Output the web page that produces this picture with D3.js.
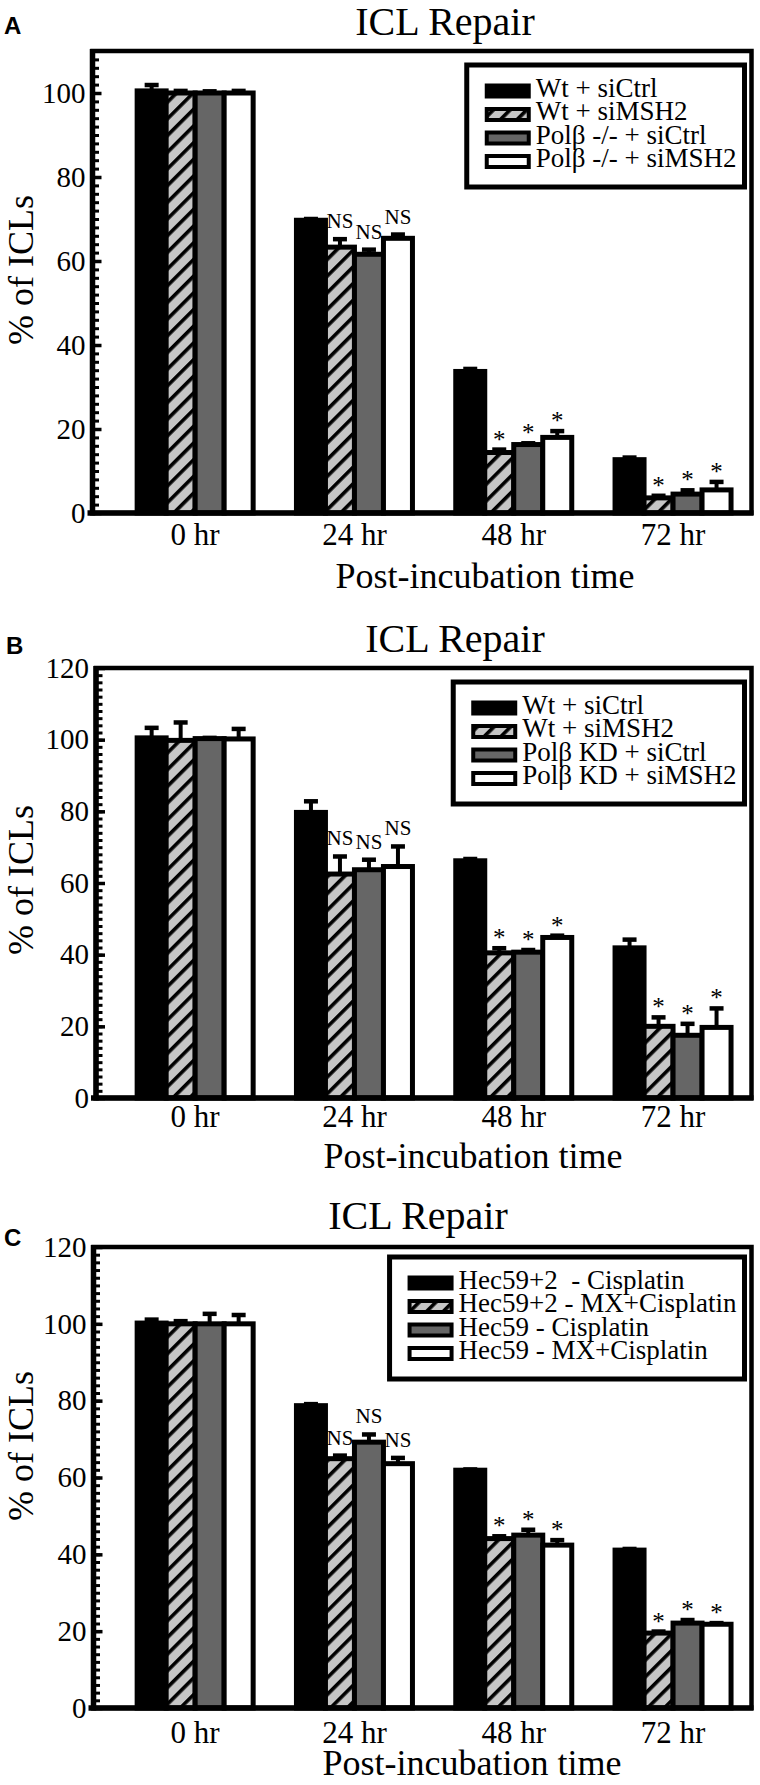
<!DOCTYPE html>
<html><head><meta charset="utf-8">
<script src="https://cdn.jsdelivr.net/npm/d3@7"></script>
<style>body{margin:0;background:#fff}</style>
</head><body>
<svg id="c" width="760" height="1785" xmlns="http://www.w3.org/2000/svg"></svg>
<script>
// ---------- data ----------
const times = ["0 hr", "24 hr", "48 hr", "72 hr"];
const legendA = ["Wt + siCtrl", "Wt + siMSH2", "Polβ -/- + siCtrl", "Polβ -/- + siMSH2"];
const legendB = ["Wt + siCtrl", "Wt + siMSH2", "Polβ KD + siCtrl", "Polβ KD + siMSH2"];
const legendC = ["Hec59+2  - Cisplatin", "Hec59+2 - MX+Cisplatin", "Hec59 - Cisplatin", "Hec59 - MX+Cisplatin"];
const yTicksA = [0, 20, 40, 60, 80, 100];
const yTicksBC = [0, 20, 40, 60, 80, 100, 120];
// rows = series (4), columns = time points
const meansA = [[100.5, 69.7, 33.7, 12.7], [100, 63.3, 14.4, 3.6], [100, 61.6, 16.3, 4.5], [100, 65.4, 18.0, 5.5]];
const errA   = [[1.4, 0.3, 0.6, 0.5], [0.5, 1.9, 0.7, 0.5], [0.4, 1.1, 0.3, 0.9], [0.5, 0.9, 1.5, 1.9]];
const meansB = [[100.5, 79.7, 66.2, 41.9], [99.8, 62.5, 40.5, 20.0], [100.3, 63.7, 40.7, 17.5], [100.2, 64.6, 44.8, 19.7]];
const errB   = [[2.8, 3.1, 0.5, 2.3], [5.0, 4.9, 1.3, 2.5], [0.2, 2.8, 0.6, 3.2], [2.8, 5.6, 0.5, 5.3]];
const meansC = [[100.2, 78.7, 61.9, 41.1], [100, 64.9, 44.1, 19.5], [100, 69.2, 45.0, 22.1], [100, 63.6, 42.4, 21.8]];
const errC   = [[0.9, 0.4, 0.2, 0.3], [0.7, 0.8, 0.6, 0.4], [2.6, 2.0, 1.4, 0.8], [2.3, 1.5, 1.3, 0.3]];
const marksAll = [["", "", "", ""], ["", "NS", "*", "*"], ["", "NS", "*", "*"], ["", "NS", "*", "*"]];

// ---------- styles ----------
const SERIF = "'Liberation Serif','Times New Roman',Times,serif";
const SANS = "'Liberation Sans',Arial,sans-serif";
const fills = ["#000000", "url(#hatch)", "#666666", "#ffffff"];

const svg = d3.select("#c");
const defs = svg.append("defs");
const pat = defs.append("pattern").attr("id", "hatch")
  .attr("patternUnits", "userSpaceOnUse").attr("width", 11.8).attr("height", 11.8)
  .attr("patternTransform", "rotate(45)");
pat.append("rect").attr("width", 11.8).attr("height", 11.8).attr("fill", "#c6c6c6");
pat.append("rect").attr("width", 3.6).attr("height", 11.8).attr("fill", "#000");

const panels = [
  {letter: "A", lx: 4, ly: 34, tx: 445, ty: 35, top: 51, bottom: 513, left: 92.5, yMax: 110, ticks: yTicksA,
   means: meansA, errs: errA, legend: legendA, legTop: 65, ylabY: 270, xtY: 545, xlX: 485, xlY: 588},
  {letter: "B", lx: 6, ly: 654, tx: 455, ty: 652, top: 668, bottom: 1098, left: 96, yMax: 120, ticks: yTicksBC,
   means: meansB, errs: errB, legend: legendB, legTop: 682, ylabY: 880, xtY: 1127, xlX: 473, xlY: 1168},
  {letter: "C", lx: 4, ly: 1246, tx: 418, ty: 1229, top: 1247, bottom: 1708, left: 93.5, yMax: 120, ticks: yTicksBC,
   means: meansC, errs: errC, legend: legendC, legTop: 1257, ylabY: 1446, xtY: 1743, xlX: 472, xlY: 1775}
];
const RIGHT = 751.5;

panels.forEach(p => {
  const g = svg.append("g");
  const y = d3.scaleLinear().domain([0, p.yMax]).range([p.bottom, p.top]);
  const x0 = d3.scaleBand().domain(times).range([115.5, 752.7]);
  const x1 = d3.scaleBand().domain(d3.range(4)).range([0, 116]);
  const off = (x0.bandwidth() - 116) / 2;

  // bars
  const data = [];
  p.means.forEach((row, s) => row.forEach((v, t) => data.push({s, t, v, e: p.errs[s][t], m: marksAll[s][t]})));
  const cx = d => x0(times[d.t]) + off + x1(d.s) + x1.bandwidth() / 2;
  g.selectAll("rect.bar").data(data).join("rect").attr("class", "bar")
    .attr("x", d => x0(times[d.t]) + off + x1(d.s))
    .attr("y", d => y(d.v))
    .attr("width", x1.bandwidth())
    .attr("height", d => y(0) - y(d.v))
    .attr("fill", d => fills[d.s])
    .attr("stroke", "#000").attr("stroke-width", 5);

  // error bars
  g.selectAll("line.stem").data(data).join("line").attr("class", "stem")
    .attr("x1", cx).attr("x2", cx)
    .attr("y1", d => y(d.v)).attr("y2", d => y(d.v + d.e))
    .attr("stroke", "#000").attr("stroke-width", 4);
  g.selectAll("line.cap").data(data).join("line").attr("class", "cap")
    .attr("x1", d => cx(d) - 7).attr("x2", d => cx(d) + 7)
    .attr("y1", d => y(d.v + d.e)).attr("y2", d => y(d.v + d.e))
    .attr("stroke", "#000").attr("stroke-width", 4.5);

  // significance marks
  g.selectAll("text.mark").data(data.filter(d => d.m)).join("text").attr("class", "mark")
    .attr("x", cx)
    .attr("y", d => y(d.v + d.e) - (d.m === "NS" ? 11 : 2))
    .attr("text-anchor", "middle")
    .attr("font-family", SERIF)
    .attr("font-size", d => d.m === "NS" ? 21 : 25)
    .text(d => d.m);

  // frame
  g.append("rect").attr("x", p.left).attr("y", p.top).attr("width", RIGHT - p.left).attr("height", p.bottom - p.top)
    .attr("fill", "none").attr("stroke", "#000").attr("stroke-width", 4.5);
  g.append("line").attr("x1", p.left).attr("x2", p.left).attr("y1", p.top - 2).attr("y2", p.bottom + 2.5)
    .attr("stroke", "#000").attr("stroke-width", 5.5);
  g.append("line").attr("x1", p.left - 5).attr("x2", RIGHT + 2).attr("y1", p.bottom).attr("y2", p.bottom)
    .attr("stroke", "#000").attr("stroke-width", 5.5);

  // minor ticks
  const minor = g.append("g").attr("transform", `translate(${p.left},0)`)
    .call(d3.axisLeft(y).tickValues(d3.range(0, p.yMax + 0.01, 2)).tickSize(-6.5).tickFormat(""));
  minor.select(".domain").remove();
  minor.selectAll("line").attr("stroke-width", 3);
  // major ticks + labels
  const major = g.append("g").attr("transform", `translate(${p.left},0)`)
    .call(d3.axisLeft(y).tickValues(p.ticks).tickSize(-9).tickPadding(7).tickFormat(d3.format("d")));
  major.select(".domain").remove();
  major.selectAll("line").attr("stroke-width", 3.5);
  major.attr("font-family", SERIF).attr("font-size", 29);
  major.selectAll("text").attr("fill", "#000");

  // x axis labels
  const xa = g.append("g").attr("transform", `translate(0,${p.bottom})`)
    .call(d3.axisBottom(x0).tickSize(0));
  xa.select(".domain").remove();
  xa.attr("font-family", SERIF).attr("font-size", 31);
  xa.selectAll("text").attr("y", p.xtY - p.bottom).attr("dy", 0).attr("fill", "#000");

  // titles
  g.append("text").attr("x", p.tx).attr("y", p.ty).attr("text-anchor", "middle")
    .attr("font-family", SERIF).attr("font-size", 40).text("ICL Repair");
  g.append("text").attr("x", p.lx).attr("y", p.ly)
    .attr("font-family", SANS).attr("font-weight", "bold").attr("font-size", 24).text(p.letter);
  g.append("text").attr("transform", `translate(33,${p.ylabY}) rotate(-90)`).attr("text-anchor", "middle")
    .attr("font-family", SERIF).attr("font-size", 36).text("% of ICLs");
  g.append("text").attr("x", p.xlX).attr("y", p.xlY).attr("text-anchor", "middle")
    .attr("font-family", SERIF).attr("font-size", 36).text("Post-incubation time");

  // legend
  const lg = g.append("g");
  const texts = lg.selectAll("text").data(p.legend).join("text")
    .attr("font-family", SERIF).attr("font-size", 27).attr("xml:space", "preserve")
    .style("white-space", "pre")
    .attr("y", (d, i) => p.legTop + 31.5 + i * 23.5)
    .text(d => d);
  let W = 0;
  texts.each(function () { W = Math.max(W, this.getComputedTextLength()); });
  const boxRight = RIGHT - 7;
  const textStart = boxRight - 8 - W;
  texts.attr("x", textStart);
  const swLeft = textStart - 51;
  lg.selectAll("rect.sw").data(p.legend).join("rect").attr("class", "sw")
    .attr("x", swLeft + 2).attr("y", (d, i) => p.legTop + 31.5 + i * 23.5 - 11)
    .attr("width", 42).attr("height", 11)
    .attr("fill", (d, i) => fills[i]).attr("stroke", "#000").attr("stroke-width", 4);
  const boxLeft = swLeft - 18;
  lg.append("rect").attr("x", boxLeft).attr("y", p.legTop).attr("width", boxRight - boxLeft).attr("height", 122)
    .attr("fill", "none").attr("stroke", "#000").attr("stroke-width", 5);
});
</script>
</body></html>
